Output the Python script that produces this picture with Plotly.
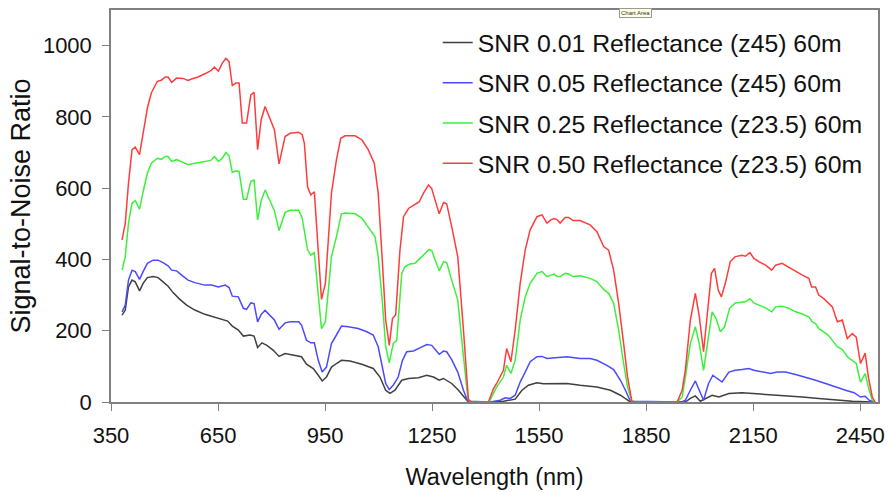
import plotly.graph_objects as go

# ---- data ----
wl_050 = [381, 390, 399, 409, 418, 430, 452, 463, 480, 491, 502, 510, 520, 534, 552, 566, 578, 594,
          613, 630, 640, 651, 662, 672, 681, 690, 700, 709, 718, 730, 742, 751, 761, 771, 782, 796,
          808, 821, 838, 852, 876, 886, 892, 901, 910, 920, 929, 940, 951, 968, 982, 994, 1006, 1034,
          1053, 1071, 1088, 1099, 1111, 1120, 1130, 1139, 1148, 1160, 1170, 1184, 1198, 1214, 1226,
          1240, 1249, 1259, 1270, 1282, 1291, 1305, 1322, 1338, 1352, 1362, 1408, 1422, 1431, 1450,
          1459, 1471, 1483, 1497, 1511, 1525, 1544, 1558, 1572, 1583, 1592, 1600, 1609, 1623, 1633,
          1645, 1665, 1693, 1712, 1731, 1745, 1759, 1773, 1787, 1798, 1810, 1824, 1937, 1951, 1960,
          1974, 1988, 1999, 2011, 2024, 2033, 2042, 2052, 2061, 2072, 2086, 2100, 2119, 2128, 2141,
          2152, 2166, 2185, 2202, 2213, 2231, 2250, 2269, 2288, 2306, 2314, 2325, 2334, 2348, 2361,
          2372, 2386, 2400, 2414, 2428, 2439, 2451, 2464, 2473, 2484, 2492]
snr_050 = [455, 501, 614, 708, 715, 694, 825, 867, 900, 903, 912, 912, 897, 909, 908, 902, 907, 912,
           921, 930, 940, 928, 951, 964, 955, 888, 895, 895, 783, 783, 862, 869, 708, 792, 829, 792,
           764, 668, 745, 754, 757, 750, 726, 604, 581, 590, 445, 288, 333, 586, 680, 740, 747, 747,
           736, 708, 670, 586, 389, 230, 159, 234, 244, 426, 520, 543, 552, 562, 586,
           609, 599, 566, 528, 560, 556, 492, 408, 202, 5, 0, 0, 37, 52, 89,
           150, 113, 202, 333, 426, 483, 520, 525, 502, 511, 515, 512, 502, 518, 518,
           509, 509, 497, 478, 436, 426, 370, 277, 164, 70, 2, 0, 0, 33, 89,
           230, 305, 240, 141, 277, 361, 375, 314, 295, 333, 394, 408, 412, 409, 419,
           403, 394, 384, 370, 384, 389, 378, 366, 356, 347, 323, 323, 300, 290, 277,
           267, 225, 230, 178, 192, 182, 108, 137, 70, 14, 0]

wl_025 = [381, 390, 399, 409, 418, 430, 440, 452, 463, 480, 491, 502, 510, 520, 534, 552, 566, 585,
          613, 630, 640, 651, 662, 672, 681, 690, 700, 709, 721, 730, 742, 751, 761, 771, 782, 796,
          808, 821, 838, 852, 876, 886, 901, 910, 920, 929, 940, 951, 968, 982, 996, 1006, 1034,
          1053, 1071, 1090, 1099, 1111, 1120, 1130, 1141, 1151, 1165, 1174, 1188, 1202, 1216, 1230,
          1242, 1249, 1259, 1270, 1282, 1291, 1305, 1322, 1338, 1350, 1357, 1410, 1422, 1431, 1450,
          1459, 1471, 1483, 1497, 1511, 1525, 1544, 1558, 1572, 1583, 1592, 1600, 1609, 1623, 1633,
          1645, 1665, 1693, 1712, 1731, 1745, 1759, 1773, 1787, 1798, 1810, 1824, 1937, 1951, 1960,
          1974, 1988, 1999, 2011, 2024, 2035, 2046, 2058, 2070, 2084, 2100, 2119, 2128, 2141,
          2152, 2166, 2185, 2202, 2213, 2231, 2250, 2269, 2288, 2306, 2316, 2325, 2334, 2348, 2361,
          2372, 2386, 2400, 2414, 2428, 2439, 2451, 2464, 2473, 2484, 2492]
snr_025 = [370, 408, 502, 558, 565, 541, 590, 642, 670, 684, 681, 689, 689, 675, 680, 673, 666, 670,
           675, 678, 689, 675, 684, 700, 691, 644, 649, 647, 569, 569, 619, 623, 511, 565, 595, 565,
           537, 481, 532, 538, 538, 516, 427, 412, 419, 323, 206, 225, 408, 464, 528, 530, 528,
           516, 492, 464, 408, 277, 155, 110, 164, 173, 361, 380, 387, 389, 403, 417,
           428, 425, 398, 368, 394, 391, 342, 286, 127, 14, 0, 0, 24, 42, 70,
           103, 80, 117, 230, 295, 333, 361, 366, 352, 356, 359, 352, 352, 361, 359,
           352, 354, 347, 338, 316, 305, 277, 202, 108, 42, 2, 0, 0, 14, 70,
           164, 211, 164, 89, 173, 253, 234, 197, 211, 263, 278, 281, 281, 290,
           278, 272, 264, 253, 267, 269, 263, 253, 247, 239, 225, 220, 206, 197, 187,
           173, 155, 147, 127, 117, 108, 56, 80, 42, 5, 0]

wl_005 = [381, 390, 399, 409, 418, 430, 440, 452, 468, 482, 496, 510, 520, 534, 548, 566, 585, 613,
          632, 651, 670, 681, 690, 707, 721, 730, 742, 751, 761, 771, 782, 796, 808, 821, 838, 852,
          876, 884, 898, 910, 920, 931, 942, 954, 968, 982, 996, 1015, 1043, 1067, 1085, 1099,
          1111, 1120, 1130, 1141, 1155, 1167, 1179, 1198, 1216, 1235, 1249, 1259, 1270, 1282, 1291,
          1305, 1322, 1338, 1350, 1413, 1441, 1455, 1469, 1483, 1497, 1511, 1525, 1544, 1558, 1572,
          1600, 1628, 1665, 1693, 1712, 1740, 1759, 1778, 1792, 1806, 1950, 1960, 1974, 1988, 1999,
          2011, 2025, 2037, 2049, 2063, 2082, 2100, 2119, 2138, 2152, 2175, 2199, 2217, 2241, 2269,
          2297, 2325, 2353, 2381, 2409, 2433, 2451, 2464, 2475, 2489]
snr_005 = [253, 272, 342, 370, 366, 344, 366, 389, 398, 398, 391, 382, 370, 368, 356, 342, 335, 328,
           328, 323, 328, 321, 297, 295, 263, 260, 278, 276, 225, 246, 257, 243, 230, 204, 222, 225,
           225, 216, 173, 166, 166, 117, 84, 98, 164, 188, 213, 211, 206, 197, 188, 155,
           98, 52, 35, 47, 70, 117, 141, 143, 152, 161, 159, 147, 134, 143, 141,
           119, 84, 33, 2, 0, 5, 12, 10, 19, 56, 84, 113, 127, 128, 122,
           124, 127, 122, 122, 117, 103, 91, 61, 33, 2, 0, 5, 33, 59, 33,
           5, 52, 75, 66, 56, 84, 89, 91, 94, 89, 84, 80, 84, 84, 77,
           70, 61, 52, 42, 33, 26, 14, 16, 5, 0]

wl_001 = [381, 390, 399, 409, 418, 430, 440, 452, 468, 482, 496, 510, 524, 543, 562, 585, 613, 632,
          655, 677, 690, 707, 721, 740, 751, 761, 773, 787, 805, 821, 838, 866, 884, 898, 917, 931,
          942, 954, 968, 982, 996, 1020, 1053, 1085, 1104, 1120, 1132, 1146, 1165, 1184, 1212, 1235,
          1254, 1270, 1282, 1305, 1324, 1338, 1352, 1413, 1450, 1483, 1502, 1520, 1544, 1562, 1600,
          1628, 1665, 1712, 1750, 1778, 1806, 1960, 1974, 1988, 2002, 2016, 2035, 2054, 2082, 2119,
          2147, 2194, 2241, 2288, 2334, 2381, 2428, 2484]
snr_001 = [244, 258, 323, 342, 337, 312, 333, 349, 352, 349, 337, 325, 307, 288, 272, 258, 246, 241,
           234, 227, 213, 202, 185, 188, 185, 153, 166, 159, 145, 128, 136, 131, 127, 106, 94, 75,
           59, 70, 98, 108, 117, 115, 106, 94, 70, 33, 24, 33, 61, 66, 68, 75,
           70, 61, 66, 52, 33, 16, 0, 0, 2, 8, 33, 47, 54, 51, 51,
           52, 47, 42, 33, 19, 0, 0, 10, 17, 2, 10, 19, 14, 24, 26,
           24, 21, 19, 14, 10, 5, 2, 0]

series_names = [
    "SNR 0.01 Reflectance (z45) 60m",
    "SNR 0.05 Reflectance (z45) 60m",
    "SNR 0.25 Reflectance (z23.5) 60m",
    "SNR 0.50 Reflectance (z23.5) 60m",
]
series_colors = ["#404040", "#4a4aff", "#3cf03c", "#ff3c3c"]

x_ticks = [350, 650, 950, 1250, 1550, 1850, 2150, 2450]
y_ticks = [0, 200, 400, 600, 800, 1000]

FONT = "Liberation Sans, Arial, sans-serif"

fig = go.Figure()
for wl, snr, name, color in zip([wl_001, wl_005, wl_025, wl_050],
                                [snr_001, snr_005, snr_025, snr_050],
                                series_names, series_colors):
    fig.add_trace(go.Scatter(x=wl, y=snr, mode="lines", name=name,
                             legendgroup=name,
                             line=dict(color=color, width=1.5)))

fig.update_layout(
    width=888, height=493,
    margin=dict(l=111, r=10, t=10, b=91),
    paper_bgcolor="white", plot_bgcolor="white",
    font=dict(family=FONT, color="#111111"),
    showlegend=True,
    legend=dict(x=0.426, y=0.975, xanchor="left", yanchor="top",
                bgcolor="rgba(255,255,255,0)", font=dict(size=24.8, family=FONT, color="#111111"),
                traceorder="grouped", tracegroupgap=5),
    xaxis=dict(range=[350, 2500], tickvals=x_ticks, ticks="outside", ticklen=7,
               tickcolor="#808080", showline=True, linecolor="#808080", linewidth=1.5,
               mirror=True, showgrid=False, zeroline=False, automargin=False,
               tickfont=dict(size=22, family=FONT, color="#111111"),
               ticklabelstandoff=6,
               title=dict(text="Wavelength (nm)", font=dict(size=23.5, family=FONT, color="#111111"),
                          standoff=21)),
    yaxis=dict(range=[0, 1100], tickvals=y_ticks, ticks="outside", ticklen=7,
               tickcolor="#808080", showline=True, linecolor="#808080", linewidth=1.5,
               mirror=True, showgrid=False, zeroline=False, automargin=False,
               tickfont=dict(size=22, family=FONT, color="#111111"),
               ticklabelstandoff=6,
               title=dict(text="Signal-to-Noise Ratio", font=dict(size=27, family=FONT, color="#111111"),
                          standoff=4)),
)

fig.add_annotation(text="Chart Area", xref="paper", yref="paper", x=0.705, y=1.005,
                   showarrow=False, font=dict(size=6, family=FONT, color="#333333"),
                   bgcolor="#ffffe1", bordercolor="#999999", borderwidth=1, borderpad=1)

fig.write_html("out.html", config={"displayModeBar": False},
               post_script="document.body.style.margin='0px';")
